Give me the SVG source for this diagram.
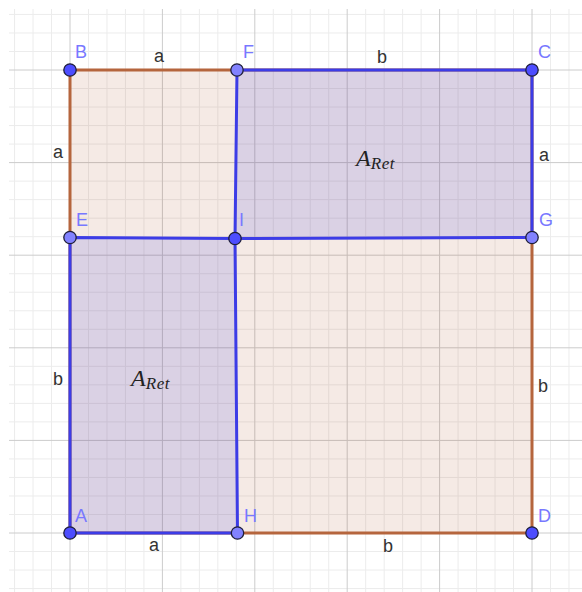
<svg xmlns="http://www.w3.org/2000/svg" width="582" height="592" viewBox="0 0 582 592">
<style>
.minor{stroke:#ececec;stroke-width:1;fill:none}
.major{stroke:#cccccc;stroke-width:1;fill:none}
.sq{fill:#993300;fill-opacity:0.1;stroke:#b5653d;stroke-width:3;stroke-linejoin:round}
.rect{fill:#4d4de1;fill-opacity:0.155;stroke:#3c3ce6;stroke-width:3;stroke-linejoin:round}
.pt{stroke:#1f1f3a;stroke-width:1.3}
.dark{fill:#4d4dff}
.light{fill:#8282ff}
.pl{font-family:"Liberation Sans",Arial,sans-serif;font-size:18px;fill:#7878ff}
.el{font-family:"Liberation Sans",Arial,sans-serif;font-size:18px;fill:#333333;text-anchor:middle}
.ar{font-family:"Liberation Serif","Times New Roman",serif;font-style:italic;fill:#222222}
</style>
<rect width="582" height="592" fill="#ffffff"/>
<g id="grid">
<path class="minor" d="M14.56 9V592M33.04 9V592M51.52 9V592M88.48 9V592M106.96 9V592M125.44 9V592M143.92 9V592M180.88 9V592M199.36 9V592M217.84 9V592M236.32 9V592M273.28 9V592M291.76 9V592M310.24 9V592M328.72 9V592M365.68 9V592M384.16 9V592M402.64 9V592M421.12 9V592M458.08 9V592M476.56 9V592M495.04 9V592M513.52 9V592M550.48 9V592M568.96 9V592"/>
<path class="minor" d="M9 14.44H582M9 32.96H582M9 51.48H582M9 88.52H582M9 107.04H582M9 125.56H582M9 144.08H582M9 181.12H582M9 199.64H582M9 218.16H582M9 236.68H582M9 273.72H582M9 292.24H582M9 310.76H582M9 329.28H582M9 366.32H582M9 384.84H582M9 403.36H582M9 421.88H582M9 458.92H582M9 477.44H582M9 495.96H582M9 514.48H582M9 551.52H582M9 570.04H582M9 588.56H582"/>
<path class="major" d="M70 9V592M162.4 9V592M254.8 9V592M347.2 9V592M439.6 9V592M532 9V592M9 70H582M9 162.6H582M9 255.2H582M9 347.8H582M9 440.4H582M9 533H582"/>
</g>
<g id="connectors">
<polygon id="square-BCDA" class="sq" points="70,70 532,70 532,533 70,533"/>
<polygon id="rect-FCGI" class="rect" points="237,70 532,70 532,237.5 235,238.5"/>
<polygon id="rect-EIHA" class="rect" points="70,237.5 235,238.5 237.5,533 70,533"/>
</g>
<g id="edge-labels">
<text class="el" x="159" y="62">a</text>
<text class="el" x="382" y="63">b</text>
<text class="el" x="58" y="158">a</text>
<text class="el" x="544" y="161">a</text>
<text class="el" x="58" y="385">b</text>
<text class="el" x="543" y="392">b</text>
<text class="el" x="154" y="551">a</text>
<text class="el" x="388" y="552">b</text>
</g>
<g id="area-labels">
<text class="ar" x="356" y="166"><tspan font-size="24">A</tspan><tspan font-size="17" dy="3" letter-spacing="0.6">Ret</tspan></text>
<text class="ar" x="131" y="386"><tspan font-size="24">A</tspan><tspan font-size="17" dy="3" letter-spacing="0.6">Ret</tspan></text>
</g>
<g id="B"><circle class="pt dark" cx="70" cy="70" r="6.2"/><text class="pl" x="75" y="58">B</text></g>
<g id="F"><circle class="pt light" cx="237" cy="70" r="6.2"/><text class="pl" x="243" y="58">F</text></g>
<g id="C"><circle class="pt dark" cx="532" cy="70" r="6.2"/><text class="pl" x="538" y="58">C</text></g>
<g id="E"><circle class="pt light" cx="70" cy="237.5" r="6.2"/><text class="pl" x="76" y="226">E</text></g>
<g id="I"><circle class="pt dark" cx="235" cy="238.5" r="6.2"/><text class="pl" x="239" y="226">I</text></g>
<g id="G"><circle class="pt light" cx="532" cy="237.5" r="6.2"/><text class="pl" x="539" y="226">G</text></g>
<g id="A"><circle class="pt dark" cx="70" cy="533" r="6.2"/><text class="pl" x="75" y="522">A</text></g>
<g id="H"><circle class="pt light" cx="237.5" cy="533" r="6.2"/><text class="pl" x="244" y="522">H</text></g>
<g id="D"><circle class="pt dark" cx="532" cy="533" r="6.2"/><text class="pl" x="538" y="522">D</text></g>
</svg>
